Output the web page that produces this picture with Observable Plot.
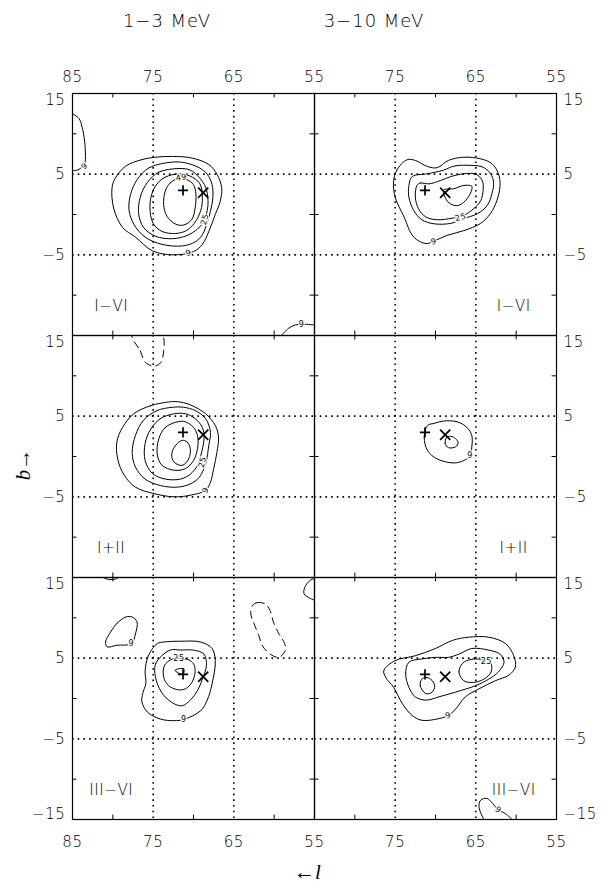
<!DOCTYPE html>
<html>
<head>
<meta charset="utf-8">
<script src="https://cdn.jsdelivr.net/npm/d3@7"></script>
<script src="https://cdn.jsdelivr.net/npm/@observablehq/plot@0.6"></script>
<style>
  body { margin: 0; background: #fff; }
  #fig { position: relative; width: 608px; height: 890px; background: #fff; overflow: hidden;
         font-family: "DejaVu Sans", "Liberation Sans", sans-serif; font-weight: 300; color: #000; }
  .title { position: absolute; top: 10px; font-size: 18px; letter-spacing: 1px; white-space: nowrap; transform: translateX(-50%); }
  .axlab { position: absolute; font-family: "Liberation Serif", "DejaVu Serif", serif; font-size: 21px; white-space: nowrap; }
  .axlab i { font-style: italic; }
</style>
</head>
<body>
<div id="fig">
  <div class="title" style="left:167px">1−3 MeV</div>
  <div class="title" style="left:374px">3−10 MeV</div>
  <div class="axlab" style="left:8px; top:452px; transform: rotate(-90deg); transform-origin: 50% 50%;"><i>b</i>→</div>
  <div class="axlab" style="left:294px; top:860px;">←<i>l</i></div>
</div>
<script>
// Energy bands (columns) and viewing-period sets (rows)
const bands = ["1−3 MeV", "3−10 MeV"];
const periods = ["I−VI", "I+II", "III−VI"];

// Axis ticks (galactic longitude l, latitude b)
const lTicksLeft = [85, 75, 65, 55];
const lTicksRight = [75, 65, 55];
const lMinor = [80, 70, 60];
const bMinor = [10, 0, -10];
const lGrid = [75, 65];
const bGrid = [5, -5];
const bLabels = [5, -5];

// Source positions
const plusSrc = [[71.3, 3.0]];
const timesSrc = [[68.8, 2.7]];

// ---- 1−3 MeV, I−VI : contour levels 9, 16, 25, 36, 49
const a9 = [[78.4,6.0],[76.4,6.8],[74.7,7.1],[72.6,7.2],[70.2,7.0],[68.1,6.2],[67.1,5.0],[66.5,3.3],[66.7,1.6],[67.3,0.0],[68.1,-2.1],[68.9,-3.7],[70.0,-4.6],[72.6,-5.0],[75.1,-4.5],[77.2,-2.8],[78.8,-1.6],[79.9,0.8],[80.1,3.3],[79.7,4.5]];
const a16 = [[72.6,6.5],[75.5,5.8],[77.0,4.3],[77.8,2.5],[78.0,0.6],[77.4,-1.2],[76.0,-2.8],[73.9,-3.7],[71.4,-3.9],[69.8,-3.4],[68.9,-2.5],[68.3,-1.0],[67.9,0.4],[67.6,2.1],[67.7,3.7],[68.3,5.0],[69.3,5.8],[71.0,6.4]];
const a25 = [[71.8,5.7],[74.3,5.25],[75.7,4.0],[76.6,2.15],[76.8,0.1],[76.2,-1.6],[74.7,-2.7],[72.6,-3.0],[70.8,-2.6],[69.5,-1.8],[68.8,-0.95],[68.3,0.5],[68.2,1.75],[68.5,3.4],[69.3,4.6],[70.4,5.5]];
const a36 = [[72.2,5.0],[73.9,4.4],[75.0,3.0],[75.4,0.9],[75.0,-1.1],[73.9,-2.1],[72.2,-2.35],[70.9,-2.0],[69.9,-1.1],[69.1,0.5],[68.9,2.1],[69.2,3.8],[70.5,4.8]];
const a49 = [[71.8,4.5],[72.9,3.9],[73.5,2.9],[73.7,1.2],[73.3,-0.2],[72.2,-1.2],[71.2,-1.3],[70.2,-0.6],[69.8,0.8],[69.7,2.5],[70.0,3.7],[70.8,4.3]];
const aEdge1 = [[85,12.5],[84.2,11.9],[83.8,10.8],[83.5,9.1],[83.4,7.5],[83.5,6.3],[84.2,5.6],[85,5.4]];
const aEdge2 = [[59.1,-15],[58.2,-14.1],[57.4,-13.7],[56.4,-13.6],[55,-13.7]];
const aLabels = [[71.5,4.6,"49",-10],[68.6,-0.6,"25",-75],[70.6,-4.75,"9",-20],[83.5,6.0,"9",-40],[56.6,-13.6,"9",0]];

// ---- 3−10 MeV, I−VI : levels 9, 16, 25, 36
const b9 = [[73.5,6.8],[74.8,5.5],[75.2,4.0],[75.0,2.15],[73.9,-0.3],[72.7,-2.8],[71.2,-3.6],[70.2,-3.3],[68.6,-2.6],[66.5,-2.0],[64.4,-1.1],[63.2,0.1],[62.4,1.7],[62.0,3.6],[62.2,5.05],[63.0,6.3],[64.4,6.9],[66.5,7.1],[68.4,6.7],[69.8,5.8],[71.0,5.95],[72.5,6.7]];
const b16 = [[72.9,4.7],[71.0,5.05],[69.0,5.5],[67.7,6.0],[66.1,6.1],[64.2,5.9],[63.2,5.1],[62.8,4.0],[63.0,2.6],[63.6,1.1],[64.8,0.1],[66.5,-0.5],[68.1,-1.1],[70.2,-1.15],[71.7,-0.65],[72.7,0.5],[73.3,2.15],[73.3,3.6]];
const b25 = [[72.3,3.6],[71.9,3.9],[70.8,3.8],[69.4,4.2],[68.1,4.7],[66.5,5.05],[65.0,5.0],[64.2,4.2],[64.1,3.0],[64.4,1.7],[65.3,0.7],[66.5,-0.1],[67.9,-0.45],[69.8,-0.65],[71.2,-0.3],[72.1,0.7],[72.5,2.15]];
const b36 = [[69.0,3.0],[68.4,1.5],[67.3,1.1],[66.3,1.7],[65.6,2.8],[65.5,3.5],[66.5,3.6],[67.7,3.2]];
const bLabelsC = [[70.2,-3.35,"9",-15],[66.9,-0.35,"25",-15]];

// ---- 1−3 MeV, I+II : levels 9, 16, 25, 36, 49 and one negative contour
const c9 = [[73.5,6.7],[75.3,6.3],[77.4,5.3],[78.8,3.6],[79.5,1.8],[79.4,-0.3],[78.6,-2.3],[77.2,-3.8],[74.9,-4.6],[72.4,-5.0],[70.4,-4.8],[68.5,-4.2],[67.9,-3.2],[67.5,-1.5],[67.1,0.5],[66.9,2.4],[67.3,3.85],[68.5,5.3],[70.4,6.4],[72.0,6.8]];
const c16 = [[72.6,6.1],[74.5,5.7],[76.2,4.5],[77.2,2.6],[77.6,0.5],[77.2,-1.3],[76.0,-2.8],[74.1,-3.6],[72.0,-3.8],[70.4,-3.4],[69.3,-2.6],[68.5,-0.9],[68.1,1.4],[67.9,3.0],[68.5,4.7],[69.8,5.7],[71.2,6.1]];
const c25 = [[72.4,5.3],[74.1,4.7],[75.3,3.4],[76.0,1.6],[76.0,-0.5],[75.1,-2.1],[73.5,-2.8],[71.6,-2.8],[70.4,-2.2],[69.5,-1.1],[69.1,0.1],[68.7,2.2],[68.9,3.6],[69.8,4.7],[71.0,5.3]];
const c36 = [[72.0,4.3],[73.5,3.6],[74.3,2.2],[74.5,0.3],[73.9,-1.1],[72.4,-1.7],[71.0,-1.5],[70.0,-0.5],[69.5,1.0],[69.5,2.6],[70.0,3.6],[71.0,4.3]];
const c49 = [[71.4,2.0],[72.2,1.4],[72.7,0.3],[72.4,-0.7],[71.4,-1.1],[70.6,-0.3],[70.4,1.0],[70.8,1.8]];
const cNeg = [[77.6,15],[76.6,13.1],[76.0,11.7],[74.9,11.2],[74.1,11.6],[73.7,13.1],[73.9,15]];
const cLabels = [[68.9,-0.7,"25",-75],[68.5,-4.2,"9",-60]];

// ---- 3−10 MeV, I+II : levels 9, 16
const d9 = [[71.0,3.85],[71.4,2.4],[71.0,0.75],[69.8,-0.3],[67.7,-0.8],[66.5,-0.5],[65.7,0.1],[65.5,1.2],[65.5,2.6],[66.1,3.6],[67.3,4.3],[69.0,4.4],[70.2,4.1]];
const d16 = [[68.6,2.4],[68.8,1.6],[68.4,1.1],[67.5,1.2],[67.2,1.7],[67.5,2.2],[68.1,2.5]];
const dLabels = [[65.7,0.1,"9",0]];

// ---- 1−3 MeV, III−VI : levels 9, 16, 25, 36 and one negative contour
const e9a = [[78.4,10.1],[79.5,9.3],[80.3,8.2],[80.9,7.0],[80.7,6.4],[79.5,6.6],[77.7,6.8],[77.2,8.0],[77.0,9.5],[77.6,10.1]];
const e9 = [[74.5,6.8],[75.6,5.3],[76.0,3.4],[75.9,1.9],[76.3,0.6],[76.4,-0.4],[75.7,-1.7],[74.1,-2.55],[72.4,-2.75],[71.2,-2.6],[69.1,-1.5],[68.3,-0.2],[67.7,1.8],[67.3,4.7],[67.7,6.2],[69.1,7.0],[71.6,7.1],[73.7,7.0]];
const e16 = [[72.9,6.0],[74.7,4.3],[74.6,2.2],[73.7,0.4],[72.4,-0.65],[71.4,-0.9],[70.4,-0.2],[69.5,1.0],[68.9,2.4],[68.4,4.1],[68.7,5.5],[70.0,6.0],[71.6,6.0]];
const e25 = [[72.6,4.9],[73.6,4.1],[73.7,2.65],[73.1,1.6],[72.0,1.1],[71.0,1.2],[70.2,2.0],[69.8,3.3],[70.0,4.3],[70.6,4.8],[71.2,4.9]];
const e36 = [[72.3,3.5],[71.2,3.7],[71.3,3.0]];
const eNeg = [[62.7,11.5],[62.1,11.9],[61.1,11.7],[60.5,10.9],[60.1,9.5],[59.4,8.0],[58.7,6.8],[58.6,6.0],[59.4,5.1],[60.5,5.5],[61.5,6.6],[61.9,7.8],[62.5,9.3],[62.9,10.5]];
const eEdge1 = [[55,14.8],[55.3,14.8],[56.1,14.0],[56.3,13.0],[55.5,12.4],[55,12.2]];
const eEdge2 = [[81.2,15],[80.5,14.75],[79.7,14.8],[79.3,15]];
const eLabels = [[77.7,6.8,"9",0],[71.8,4.95,"25",0],[71.2,-2.6,"9",0]];

// ---- 3−10 MeV, III−VI : levels 9, 16, 25
const f9 = [[76.4,3.5],[75.0,4.7],[72.5,5.3],[70.0,6.2],[67.9,7.2],[65.9,7.6],[63.4,7.6],[61.3,6.8],[60.3,5.3],[60.1,3.9],[60.9,2.9],[62.6,2.2],[64.6,1.2],[66.3,0.2],[67.5,-1.3],[68.4,-2.1],[69.6,-2.5],[71.7,-2.7],[72.9,-2.1],[74.1,-0.65],[75.2,1.4],[76.2,2.65]];
const f16 = [[73.3,4.5],[73.7,3.1],[73.3,1.4],[72.5,0.2],[71.2,-0.2],[69.6,0.2],[67.5,0.8],[65.0,1.6],[63.4,2.4],[62.2,3.3],[61.5,4.5],[62.0,5.5],[63.4,6.0],[65.5,6.2],[67.1,5.5],[68.4,5.1],[70.0,5.1],[71.7,4.9]];
const f25a = [[71.7,2.4],[71.9,1.6],[71.2,0.6],[70.4,0.8],[70.1,1.6],[70.6,2.4],[71.2,2.6]];
const f25b = [[66.7,4.3],[67.1,3.3],[66.5,2.2],[65.3,2.0],[64.0,2.4],[63.1,3.3],[63.2,4.5],[65.0,4.9],[66.1,4.7]];
const fEdge = [[64.0,-15],[64.6,-13.5],[64.4,-12.6],[63.6,-12.4],[62.2,-13.8],[61.3,-14.3],[60.5,-15]];
const fLabels = [[63.7,4.6,"25",0],[68.4,-2.1,"9",-20],[62.2,-13.8,"9",35]];

// Panel table: column = band, row = period
const panels = [
  {col: 0, row: 0, closed: [a9, a16, a25, a36, a49], open: [aEdge1, aEdge2], negative: [], labels: aLabels},
  {col: 1, row: 0, closed: [b9, b16, b25, b36], open: [], negative: [], labels: bLabelsC},
  {col: 0, row: 1, closed: [c9, c16, c25, c36, c49], open: [], negative: [cNeg], labels: cLabels},
  {col: 1, row: 1, closed: [d9, d16], open: [], negative: [], labels: dLabels},
  {col: 0, row: 2, closed: [e9a, e9, e16, e25, e36], open: [eEdge1, eEdge2], negative: [eNeg], labels: eLabels},
  {col: 1, row: 2, closed: [f9, f16, f25a, f25b], open: [fEdge], negative: [], labels: fLabels}
];

const W = 242, H = 242;
const panelLeft = [72, 314];
const panelTop = [93, 335, 577];
const fmt = d => d < 0 ? "−" + Math.abs(d) : String(d);
const toRows = lines => lines.flatMap((pts, i) => pts.map(([l, b]) => ({id: i, l, b})));
const fig = document.getElementById("fig");

for (const p of panels) {
  const mL = p.col === 0 ? 72 : 0;
  const mR = p.col === 1 ? 52 : 0;
  const mT = p.row === 0 ? 33 : 0;
  const mB = p.row === 2 ? 45 : 0;
  const tickFont = {fontSize: 15, fill: "black"};
  const marks = [
    // dotted grid
    Plot.ruleX(lGrid, {stroke: "black", strokeWidth: 1.6, strokeDasharray: "1.6,4.1"}),
    Plot.ruleY(bGrid, {stroke: "black", strokeWidth: 1.6, strokeDasharray: "1.6,4.1"}),
    // minor ticks, pointing inward
    Plot.ruleX(lMinor, {y1: 15, y2: 14.45, stroke: "black"}),
    Plot.ruleX(lMinor, {y1: -15, y2: -14.45, stroke: "black"}),
    Plot.ruleY(bMinor, {x1: 85, x2: 84.45, stroke: "black"}),
    Plot.ruleY(bMinor, {x1: 55, x2: 55.55, stroke: "black"}),
    Plot.frame({stroke: "black", strokeWidth: 1.2}),
    // contours
    Plot.line(toRows(p.closed), {x: "l", y: "b", z: "id", curve: "catmull-rom-closed", stroke: "black", strokeWidth: 1}),
    Plot.line(toRows(p.open), {x: "l", y: "b", z: "id", curve: "catmull-rom", stroke: "black", strokeWidth: 1, clip: true}),
    Plot.line(toRows(p.negative), {x: "l", y: "b", z: "id", curve: "catmull-rom-closed", stroke: "black", strokeWidth: 1, strokeDasharray: "7,5", clip: true}),
    Plot.text(p.labels, {x: d => d[0], y: d => d[1], text: d => d[2], rotate: d => d[3], fontSize: 8, fontWeight: 400, fill: "black", stroke: "white", strokeWidth: 2.5}),
    // sources
    Plot.dot(plusSrc, {x: d => d[0], y: d => d[1], symbol: "plus", r: 3.4, stroke: "black", strokeWidth: 1.7, fill: "none"}),
    Plot.dot(timesSrc, {x: d => d[0], y: d => d[1], symbol: "times", r: 4.7, stroke: "black", strokeWidth: 1.7, fill: "none"}),
    // period label
    Plot.text([periods[p.row]], {x: p.col === 0 ? 80.2 : 60.3, y: -11.4, text: d => d, fontSize: 15, fill: "black"})
  ];
  // latitude labels
  const bx = p.col === 0 ? 85 : 55;
  const anchor = p.col === 0 ? "end" : "start";
  const ddx = p.col === 0 ? -7 : 7;
  marks.push(Plot.text(bLabels, {x: bx, y: d => d, text: fmt, textAnchor: anchor, dx: ddx, ...tickFont}));
  marks.push(Plot.text([15], {x: bx, y: d => d, text: fmt, textAnchor: anchor, dx: ddx, dy: 7, ...tickFont}));
  if (p.row === 2) marks.push(Plot.text([-15], {x: bx, y: d => d, text: fmt, textAnchor: anchor, dx: ddx, dy: -5, ...tickFont}));
  // longitude labels
  const lt = p.col === 0 ? lTicksLeft : lTicksRight;
  if (p.row === 0) marks.push(Plot.text(lt, {x: d => d, y: 15, text: fmt, dy: -16, ...tickFont}));
  if (p.row === 2) marks.push(Plot.text(lt, {x: d => d, y: -15, text: fmt, dy: 23, ...tickFont}));

  const svg = Plot.plot({
    width: mL + W + mR,
    height: mT + H + mB,
    marginLeft: mL, marginRight: mR, marginTop: mT, marginBottom: mB,
    x: {domain: [85, 55], axis: null},
    y: {domain: [-15, 15], axis: null},
    style: {background: "transparent", overflow: "visible", fontFamily: "'DejaVu Sans', 'Liberation Sans', sans-serif", fontWeight: 300, letterSpacing: "0.6px"},
    marks
  });
  svg.style.position = "absolute";
  svg.style.left = (panelLeft[p.col] - mL) + "px";
  svg.style.top = (panelTop[p.row] - mT) + "px";
  fig.appendChild(svg);
}
</script>
</body>
</html>
